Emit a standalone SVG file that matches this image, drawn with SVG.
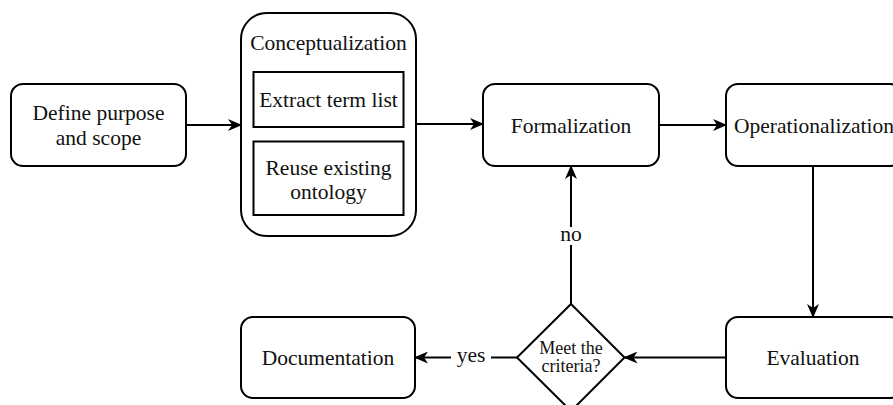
<svg xmlns="http://www.w3.org/2000/svg" width="893" height="405" viewBox="0 0 893 405">
  <style>
    .box { fill: #ffffff; stroke: #000000; stroke-width: 2; }
    .edge { fill: none; stroke: #000000; stroke-width: 2; }
  </style>
  <defs>
    <marker id="head" viewBox="0 0 14 12" refX="13" refY="6" markerWidth="14" markerHeight="12" markerUnits="userSpaceOnUse" orient="auto">
      <path d="M0,0 L14,6 L0,12 L4,6 Z" fill="#000000"/>
    </marker>
  </defs>
  <rect width="893" height="405" fill="#ffffff"/>

  <!-- connectors -->
  <g id="connectors" font-family="Liberation Serif, serif" font-size="21.5" fill="#111111" text-anchor="middle">
    <path class="edge" marker-end="url(#head)" d="M186,125 L241,125"/>
    <path class="edge" marker-end="url(#head)" d="M416,124 L483,124"/>
    <path class="edge" marker-end="url(#head)" d="M659,125 L726,125"/>
    <path class="edge" marker-end="url(#head)" d="M813,166 L813,317"/>
    <path class="edge" marker-end="url(#head)" d="M726,357.5 L624.5,357.5"/>
    <!-- no: decision back to formalization -->
    <path class="edge" d="M571,304 L571,245"/>
    <path class="edge" marker-end="url(#head)" d="M571,227 L571,166"/>
    <text x="571" y="241">no</text>
    <!-- yes: decision to documentation -->
    <path class="edge" d="M517,357.5 L491,357.5"/>
    <path class="edge" marker-end="url(#head)" d="M451,357.5 L415,357.5"/>
    <text x="471" y="362">yes</text>
  </g>

  <g font-family="Liberation Serif, serif" font-size="21.5" fill="#111111" text-anchor="middle">
    <g id="define">
      <rect class="box" x="11" y="84" width="175" height="82" rx="12"/>
      <text x="98.5" y="120">Define purpose</text>
      <text x="98.5" y="145">and scope</text>
    </g>

    <g id="conceptualization">
      <rect class="box" x="241" y="13" width="175" height="223" rx="26"/>
      <text x="328.5" y="50">Conceptualization</text>
    </g>

    <g id="extract">
      <rect class="box" x="253.5" y="72" width="150" height="55"/>
      <text x="328.5" y="107">Extract term list</text>
    </g>

    <g id="reuse">
      <rect class="box" x="253.5" y="141.5" width="150" height="73.5"/>
      <text x="328.5" y="175">Reuse existing</text>
      <text x="328.5" y="199">ontology</text>
    </g>

    <g id="formalization">
      <rect class="box" x="483" y="84" width="176" height="82" rx="12"/>
      <text x="571" y="133">Formalization</text>
    </g>

    <g id="operationalization">
      <rect class="box" x="726" y="84" width="176" height="82" rx="12"/>
      <text x="814" y="133">Operationalization</text>
    </g>

    <g id="evaluation">
      <rect class="box" x="726" y="317" width="176" height="81" rx="12"/>
      <text x="813" y="365">Evaluation</text>
    </g>

    <g id="decision">
      <path class="box" d="M571,304 L624.5,357.5 L571,411 L517,357.5 Z"/>
      <text x="571" y="353.5" font-size="18">Meet the</text>
      <text x="571" y="372" font-size="18">criteria?</text>
    </g>

    <g id="documentation">
      <rect class="box" x="241" y="317" width="174" height="81" rx="12"/>
      <text x="328" y="365">Documentation</text>
    </g>
  </g>
</svg>
